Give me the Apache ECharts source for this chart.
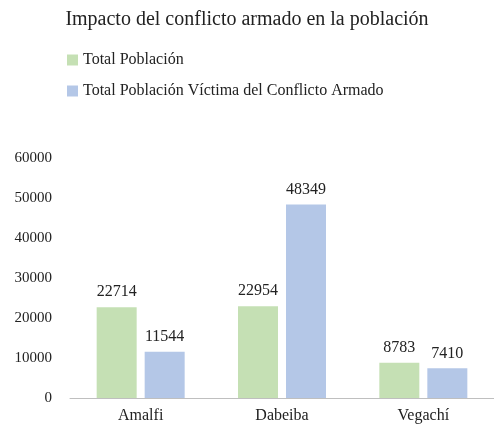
<!DOCTYPE html>
<html><head><meta charset="utf-8">
<script src="https://cdn.jsdelivr.net/npm/echarts@6/dist/echarts.min.js"></script>
<style>html,body{margin:0;padding:0;background:#fff}#c{width:494px;height:438px}</style>
</head><body><div id="c"></div>
<script>
const categories = ['Amalfi', 'Dabeiba', 'Vegachí'];
const totalPoblacion = [22714, 22954, 8783];
const totalVictimas = [11544, 48349, 7410];
const seriesNames = ['Total Población', 'Total Población Víctima del Conflicto Armado'];
const font = 'Liberation Serif';
const chart = echarts.init(document.getElementById('c'));
chart.setOption({
  animation: false,
  textStyle: { fontFamily: font },
  title: { text: 'Impacto del conflicto armado en la población', left: 'center', top: 5,
    textStyle: { fontFamily: font, fontSize: 20, fontWeight: 'normal', color: '#222' } },
  legend: { orient: 'vertical', left: 62, top: 47, itemWidth: 11, itemHeight: 11, itemGap: 15,
    icon: 'rect', textStyle: { fontFamily: font, fontSize: 16, color: '#222' } },
  grid: { left: 70, right: -8, top: 158, bottom: 40 },
  xAxis: { type: 'category', data: categories,
    axisLine: { lineStyle: { color: '#bfbfbf' } }, axisTick: { show: false },
    axisLabel: { fontFamily: font, fontSize: 16, color: '#222', margin: 10 } },
  yAxis: { type: 'value', min: 0, max: 60000, interval: 10000,
    splitLine: { show: false }, axisLine: { show: false },
    axisLabel: { fontFamily: font, fontSize: 15, color: '#222', margin: 18, formatter: v => String(v) } },
  series: [
    { name: seriesNames[0], type: 'bar', data: totalPoblacion, barWidth: 40, barGap: '20%',
      itemStyle: { color: '#c5e0b4' },
      label: { show: true, position: 'top', distance: 7, fontFamily: font, fontSize: 16, color: '#222' } },
    { name: seriesNames[1], type: 'bar', data: totalVictimas, barWidth: 40,
      itemStyle: { color: '#b4c7e7' },
      label: { show: true, position: 'top', distance: 7, fontFamily: font, fontSize: 16, color: '#222' } }
  ]
});
</script></body></html>
